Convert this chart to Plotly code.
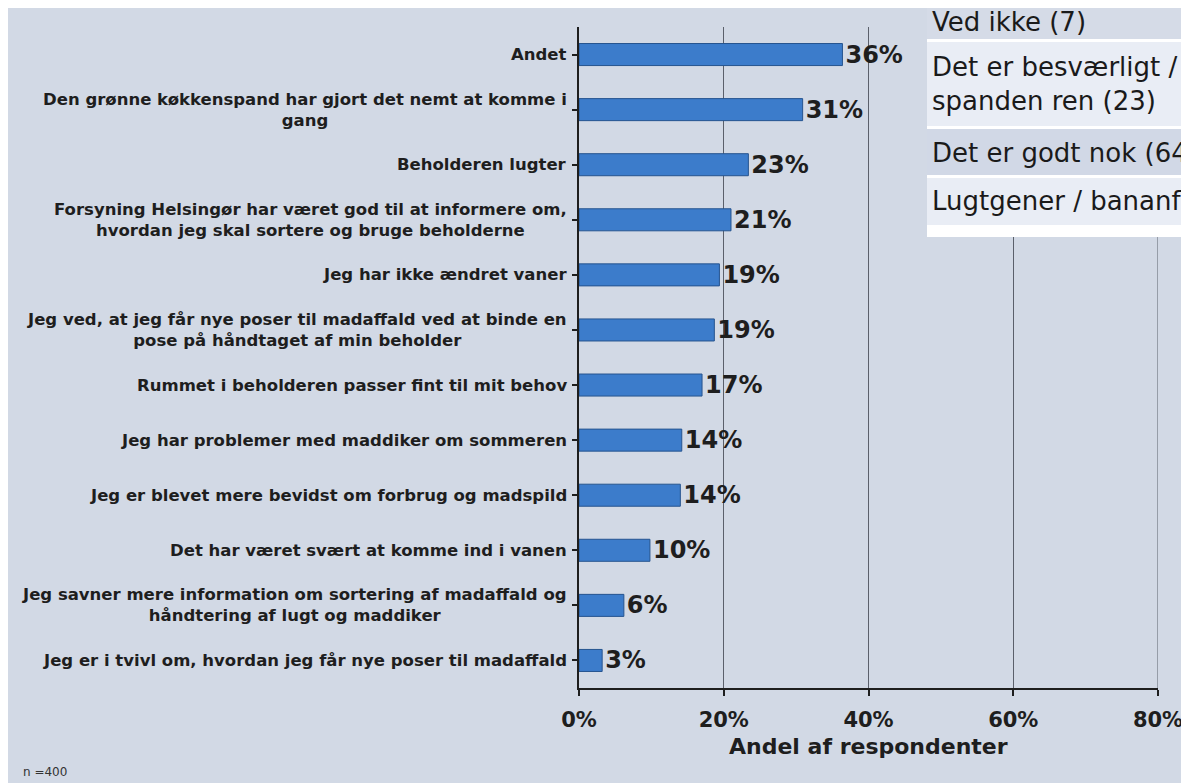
import plotly.graph_objects as go

# ---------------- data ----------------
categories = [
    "Andet",
    "Den grønne køkkenspand har gjort det nemt at komme i<br>gang",
    "Beholderen lugter",
    "Forsyning Helsingør har været god til at informere om,<br>hvordan jeg skal sortere og bruge beholderne",
    "Jeg har ikke ændret vaner",
    "Jeg ved, at jeg får nye poser til madaffald ved at binde en<br>pose på håndtaget af min beholder",
    "Rummet i beholderen passer fint til mit behov",
    "Jeg har problemer med maddiker om sommeren",
    "Jeg er blevet mere bevidst om forbrug og madspild",
    "Det har været svært at komme ind i vanen",
    "Jeg savner mere information om sortering af madaffald og<br>håndtering af lugt og maddiker",
    "Jeg er i tvivl om, hvordan jeg får nye poser til madaffald",
]
values = [36.4, 30.9, 23.4, 21.0, 19.4, 18.7, 17.0, 14.2, 14.0, 9.8, 6.2, 3.2]
x_tick_vals = [0, 20, 40, 60, 80]
x_tick_text = ["0%", "20%", "40%", "60%", "80%"]
x_title = "Andel af respondenter"
note = "n =400"
overlay_rows = [
    "Ved ikke (7)",
    "Det er besværligt / svært at holde<br>spanden ren (23)",
    "Det er godt nok (64)",
    "Lugtgener / bananfluer (51)",
]

# ---------------- layout geometry ----------------
OFF = 8                      # page body margin
W, H = 1181, 775
L, T = 571, 19
PW, PH = 579, 661
R, B = W - L - PW, H - T - PH
BG = "#D2D9E5"
FONT = "DejaVu Sans, Verdana, sans-serif"
INK = "#1E1E1E"
GRID = "#5B606B"


def px2x(sx):
    return (sx - OFF - L) / PW


def py2y(sy):
    return (T + PH - (sy - OFF)) / PH


ids = list(range(len(categories)))

fig = go.Figure()
fig.add_trace(go.Bar(
    x=values,
    y=ids,
    orientation="h",
    width=0.4,
    marker=dict(color="#3C7CCB", line=dict(color="#26548F", width=1)),
    text=[f"{v:.0f}%" for v in values],
    textposition="outside",
    constraintext="none",
    textfont=dict(family=FONT, size=24, color=INK, weight="bold"),
    cliponaxis=False,
    hoverinfo="skip",
))

shapes = []
# gridline at the right edge (80 %)
shapes.append(dict(type="line", xref="x", yref="paper", x0=80, x1=80, y0=0, y1=1,
                   line=dict(color=GRID, width=1), layer="below"))
# overlay table (top right)
row_bounds = [(0, 39), (42, 126), (129, 175), (178, 225)]
row_fills = ["#D5DBE7", "#E9EDF5", "#D1D8E6", "#E9EDF5"]
shapes.append(dict(type="rect", xref="paper", yref="paper",
                   x0=px2x(927), x1=px2x(1200), y0=py2y(237), y1=py2y(0),
                   fillcolor="white", line=dict(width=0), layer="above"))
for (y0, y1), fc in zip(row_bounds, row_fills):
    shapes.append(dict(type="rect", xref="paper", yref="paper",
                       x0=px2x(927), x1=px2x(1200), y0=py2y(y1), y1=py2y(y0),
                       fillcolor=fc, line=dict(width=0), layer="above"))

annotations = []
# y category labels (centered multi-line)
for i, c in enumerate(categories):
    annotations.append(dict(
        x=px2x(569), xref="paper", y=i, yref="y",
        text=c, showarrow=False, xanchor="right", yanchor="middle",
        align="center", font=dict(family=FONT, size=16.5, color=INK, weight="bold"),
    ))
# axis title
annotations.append(dict(
    x=40, xref="x", y=py2y(746), yref="paper", text=x_title, showarrow=False,
    xanchor="center", yanchor="middle",
    font=dict(family=FONT, size=22, color=INK, weight="bold"),
))
# n note
annotations.append(dict(
    x=px2x(21), xref="paper", y=py2y(772), yref="paper", text=note, showarrow=False,
    xanchor="left", yanchor="middle", font=dict(family=FONT, size=12, color="#333333"),
))
# overlay texts
text_centers = [22, 84, 153, 201]
for yc, t in zip(text_centers, overlay_rows):
    annotations.append(dict(
        x=px2x(930), xref="paper", y=py2y(yc), yref="paper",
        text=t, showarrow=False, xanchor="left", yanchor="middle", align="left",
        font=dict(family=FONT, size=26, color="#1A1A1A"),
    ))

fig.update_layout(
    width=W, height=H,
    margin=dict(l=L, r=R, t=T, b=B, autoexpand=False),
    paper_bgcolor=BG, plot_bgcolor=BG,
    showlegend=False,
    shapes=shapes,
    annotations=annotations,
    xaxis=dict(
        range=[0, 80], tickvals=x_tick_vals, ticktext=x_tick_text,
        showgrid=True, gridcolor=GRID, gridwidth=1,
        zeroline=False, showline=True, linecolor=INK, linewidth=2,
        ticks="outside", ticklen=6, tickcolor=INK, tickwidth=1.5,
        tickfont=dict(family=FONT, size=21, color=INK, weight="bold"),
        ticklabelstandoff=6,
        fixedrange=True,
    ),
    yaxis=dict(
        tickmode="array", tickvals=ids, ticktext=[""] * len(ids),
        range=[len(ids) - 0.5, -0.5],
        showgrid=False, zeroline=False,
        showline=True, linecolor=INK, linewidth=2,
        ticks="outside", tickson="boundaries", ticklen=5, tickcolor=INK,
        tickwidth=1.5, fixedrange=True,
    ),
)

fig.write_html("out.html")
